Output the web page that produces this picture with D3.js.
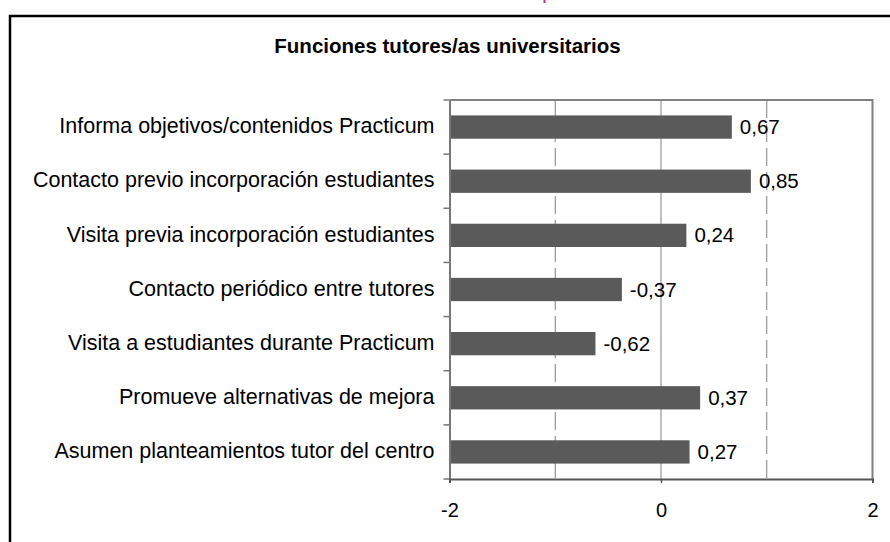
<!DOCTYPE html>
<html>
<head>
<meta charset="utf-8">
<script src="https://cdn.jsdelivr.net/npm/d3@7"></script>
<style>
body { margin: 0; background: #fff; }
svg { display: block; font-family: "Liberation Sans", Arial, sans-serif; }
</style>
</head>
<body>
<script>
var categories = [
    "Informa objetivos/contenidos Practicum",
    "Contacto previo incorporación estudiantes",
    "Visita previa incorporación estudiantes",
    "Contacto periódico entre tutores",
    "Visita a estudiantes durante Practicum",
    "Promueve alternativas de mejora",
    "Asumen planteamientos tutor del centro"
];
var values = [0.67, 0.85, 0.24, -0.37, -0.62, 0.37, 0.27];
var xTicks = [-2, 0, 2];
var gridTicks = [-1, 0, 1];
var title = "Funciones tutores/as universitarios";

var width = 890;
var height = 542;
var plot = {left: 449.5, right: 872.5, top: 100, bottom: 479};
var font = "Liberation Sans, Arial, sans-serif";

var svg = d3.select("body").append("svg").attr("width", width).attr("height", height);

// outer chart frame (runs off the right and bottom edges)
svg.append("rect").attr("x", 10).attr("y", 16).attr("width", 900).attr("height", 560)
    .attr("fill", "none").attr("stroke", "#000").attr("stroke-width", 2.5);

// little magenta mark at top (clipped text from above)
svg.append("line").attr("x1", 544.5).attr("x2", 544.5).attr("y1", 0).attr("y2", 3)
    .attr("stroke", "#b030b0").attr("stroke-width", 2);

var x = d3.scaleLinear().domain([-2, 2]).range([plot.left, plot.right]);
var y = d3.scaleBand().domain(categories).range([plot.top, plot.bottom])
    .paddingInner(0.57).paddingOuter(0.285);

// gridlines
svg.selectAll(".grid").data(gridTicks).enter().append("line").attr("class", "grid")
    .attr("x1", function (d) { return x(d); }).attr("x2", function (d) { return x(d); })
    .attr("y1", plot.top).attr("y2", plot.bottom)
    .attr("stroke", "#808080").attr("stroke-width", 1)
    .attr("stroke-dasharray", function (d) { return d === 0 ? null : "18,6"; });

// plot border top/right
svg.append("path")
    .attr("d", "M" + plot.left + "," + plot.top + "H" + plot.right + "V" + plot.bottom)
    .attr("fill", "none").attr("stroke", "#808080").attr("stroke-width", 2);

// bars from the axis minimum
svg.selectAll(".bar").data(values).enter().append("rect").attr("class", "bar")
    .attr("x", x(-2))
    .attr("y", function (d, i) { return y(categories[i]); })
    .attr("width", function (d) { return x(d) - x(-2); })
    .attr("height", y.bandwidth())
    .attr("fill", "#5a5a5a");

// value labels
svg.selectAll(".val").data(values).enter().append("text").attr("class", "val")
    .attr("x", function (d) { return x(d) + 8; })
    .attr("y", function (d, i) { return y(categories[i]) + y.bandwidth() / 2 + 7; })
    .attr("font-size", 20.5).attr("fill", "#000")
    .text(function (d) { return String(d).replace(".", ","); });

// y axis
var yAxis = d3.axisLeft(y).tickSize(0).tickPadding(15);
var yg = svg.append("g").attr("transform", "translate(" + plot.left + ",0)").call(yAxis);
yg.select(".domain").attr("stroke", "#777").attr("stroke-width", 2);
yg.selectAll("text").attr("font-size", 21.5).attr("font-family", font)
    .attr("fill", "#000").attr("dy", "0.29em");

// y boundary ticks between categories
var bounds = d3.range(categories.length + 1).map(function (i) {
    return plot.top + i * (plot.bottom - plot.top) / categories.length;
});
svg.selectAll(".ytick").data(bounds).enter().append("line").attr("class", "ytick")
    .attr("x1", plot.left - 6).attr("x2", plot.left)
    .attr("y1", function (d) { return d; }).attr("y2", function (d) { return d; })
    .attr("stroke", "#777").attr("stroke-width", 1.5);

// x axis
var xAxis = d3.axisBottom(x).tickValues(xTicks).tickSize(4).tickPadding(20)
    .tickFormat(function (d) { return d; });
var xg = svg.append("g").attr("transform", "translate(0," + plot.bottom + ")").call(xAxis);
xg.select(".domain").attr("stroke", "#555").attr("stroke-width", 2);
xg.selectAll(".tick line").attr("stroke", "#555").attr("stroke-width", 1.5);
xg.selectAll("text").attr("font-size", 20).attr("font-family", font)
    .attr("fill", "#000");

// title
svg.append("text").attr("x", 447.5).attr("y", 53).attr("text-anchor", "middle")
    .attr("font-size", 20.5).attr("font-weight", "bold").attr("fill", "#000")
    .text(title);
</script>
</body>
</html>
